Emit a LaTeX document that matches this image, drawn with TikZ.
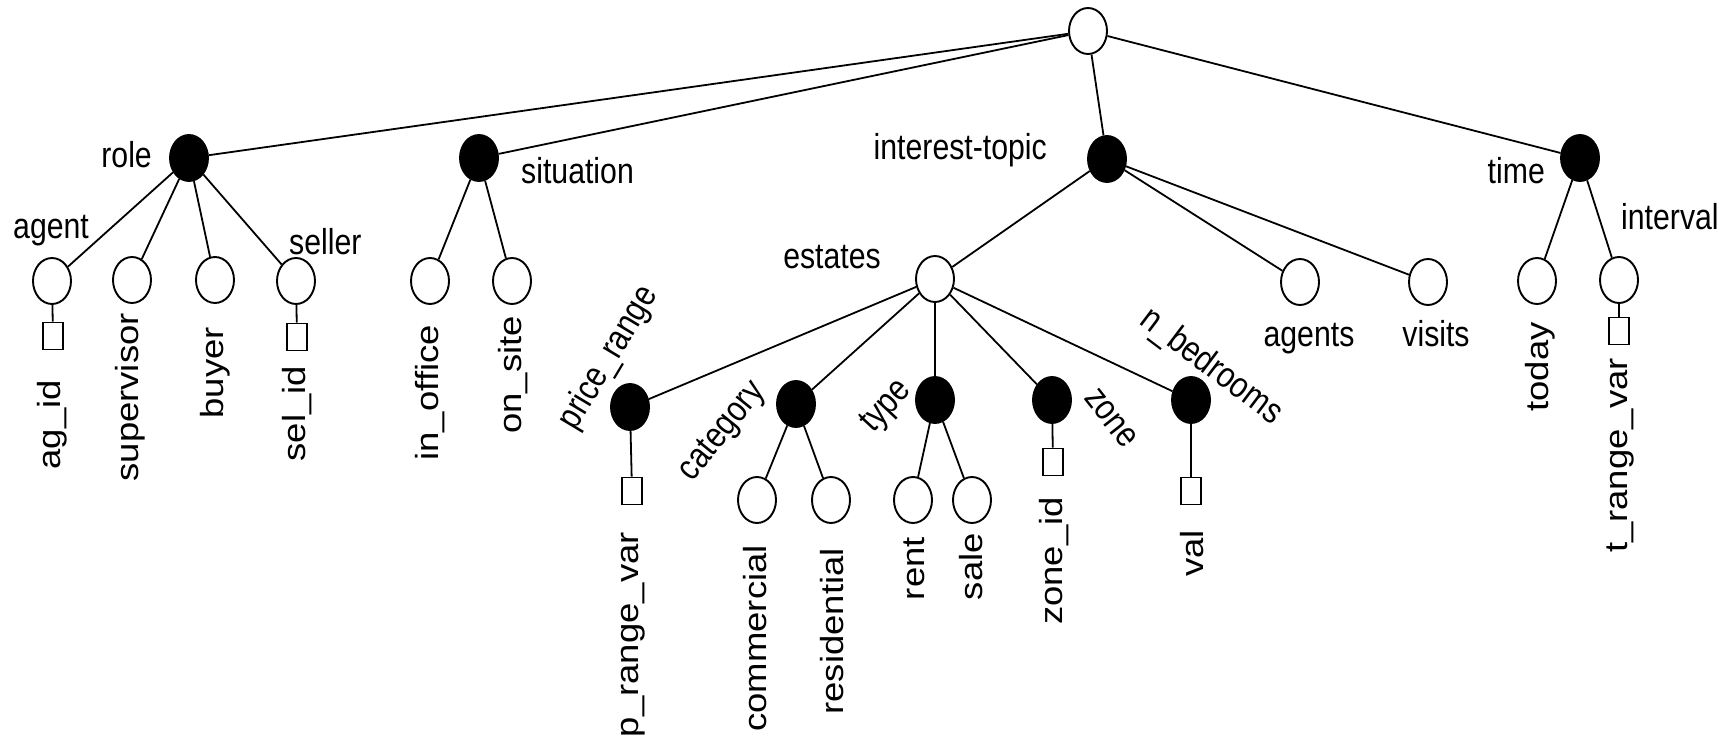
\documentclass[tikz,border=0pt]{standalone}
\usepackage{fontspec}
\setmainfont{Liberation Sans}[FakeStretch=0.84]
\newfontfamily\rotfont{Liberation Sans}[FakeStretch=1.14]
\usetikzlibrary{shapes.geometric}
\begin{document}
\begin{tikzpicture}[x=1pt,y=-1pt,
  edge/.style={line width=1.8pt},
  open/.style={ellipse,draw,line width=1.9pt,fill=white,minimum width=38pt,minimum height=46pt,inner sep=0pt},
  full/.style={open,fill=black},
  slot/.style={rectangle,draw,line width=1.8pt,fill=white,minimum width=20pt,minimum height=27pt,inner sep=0pt},
  lab/.style={font=\fontsize{36}{40}\selectfont,inner sep=0pt},
  vlab/.style={font=\rotfont\fontsize{32}{36}\selectfont,inner sep=0pt,rotate=90,anchor=east},
]
\useasboundingbox (0,0) rectangle (1734,743);

% root and first level
\node[open] (root) at (1088,31) {};
\node[full] (role) at (189,158) {};
\node[full] (situation) at (479,158) {};
\node[full] (topic) at (1107,159) {};
\node[full] (time) at (1580,158) {};

\node[lab,anchor=base east] (lrole) at (152,168) {role};
\node[lab,anchor=base west] (lsituation) at (521,184) {situation};
\node[lab,anchor=base east] (ltopic) at (1047,160) {interest-topic};
\node[lab,anchor=base east] (ltime) at (1545,184) {time};

% role branch
\node[open] (agent) at (52,281) {};
\node[open] (supervisor) at (132,280) {};
\node[open] (buyer) at (215,280) {};
\node[open] (seller) at (296,281) {};
\node[slot] (agsq) at (53,336) {};
\node[slot] (selsq) at (297,337) {};
\node[lab,anchor=base west] (lagent) at (13,239) {agent};
\node[lab,anchor=base west] (lseller) at (289,255) {seller};
\node[vlab] (lagid) at (52,380) {ag\_id};
\node[vlab] (lsupervisor) at (130,313) {supervisor};
\node[vlab] (lbuyer) at (215,327) {buyer};
\node[vlab] (lselid) at (297,366) {sel\_id};

% situation branch
\node[open] (inoffice) at (430,281) {};
\node[open] (onsite) at (512,281) {};
\node[vlab] (linoffice) at (430,325) {in\_office};
\node[vlab] (lonsite) at (513,316) {on\_site};

% interest-topic branch
\node[open] (estates) at (935,279) {};
\node[open] (agents) at (1300,282) {};
\node[open] (visits) at (1428,282) {};
\node[lab,anchor=base east] (lestates) at (881,269) {estates};
\node[lab,anchor=base] (lagents) at (1309,346) {agents};
\node[lab,anchor=base] (lvisits) at (1436,346) {visits};

% estates attributes
\node[full] (price) at (630,407) {};
\node[full] (category) at (796,404) {};
\node[full] (type) at (935,400) {};
\node[full] (zone) at (1052,400) {};
\node[full] (nbed) at (1191,400) {};
\node[lab,rotate=59] (lprice) at (609,358) {price\_range};
\node[lab,rotate=51] (lcategory) at (723,432) {category};
\node[lab,rotate=47] (ltype) at (887,407) {type};
\node[lab,rotate=-52] (lzone) at (1111,418) {zone};
\node[lab,rotate=-37] (lnbed) at (1211,367) {n\_bedrooms};

\node[slot] (psq) at (632,491) {};
\node[open] (commercial) at (757,500) {};
\node[open] (residential) at (831,500) {};
\node[open] (rent) at (913,500) {};
\node[open] (sale) at (972,500) {};
\node[slot] (zsq) at (1053,462) {};
\node[slot] (vsq) at (1191,491) {};

\node[vlab] (lpvar) at (633,532) {p\_range\_var};
\node[vlab] (lcommercial) at (755,545) {commercial};
\node[vlab] (lresidential) at (832,548) {residential};
\node[vlab] (lrent) at (914,537) {rent};
\node[vlab] (lsale) at (971,533) {sale};
\node[vlab] (lzoneid) at (1054,497) {zone\_id};
\node[vlab] (lval) at (1192,530) {val};

% time branch
\node[open] (today) at (1537,281) {};
\node[open] (interval) at (1619,280) {};
\node[slot] (tsq) at (1619,331) {};
\node[lab,anchor=base west] (linterval) at (1621,230) {interval};
\node[vlab] (ltoday) at (1540,322) {today};
\node[vlab] (ltvar) at (1620,358) {t\_range\_var};

% connectors
\foreach \a/\b in {root/role,root/situation,root/topic,root/time,
  role/agent,role/supervisor,role/buyer,role/seller,agent/agsq,seller/selsq,
  situation/inoffice,situation/onsite,
  topic/estates,topic/agents,topic/visits,
  estates/price,estates/category,estates/type,estates/zone,estates/nbed,
  price/psq,category/commercial,category/residential,type/rent,type/sale,
  zone/zsq,nbed/vsq,
  time/today,time/interval,interval/tsq}
  \draw[edge] (\a) -- (\b);
\end{tikzpicture}
\end{document}
